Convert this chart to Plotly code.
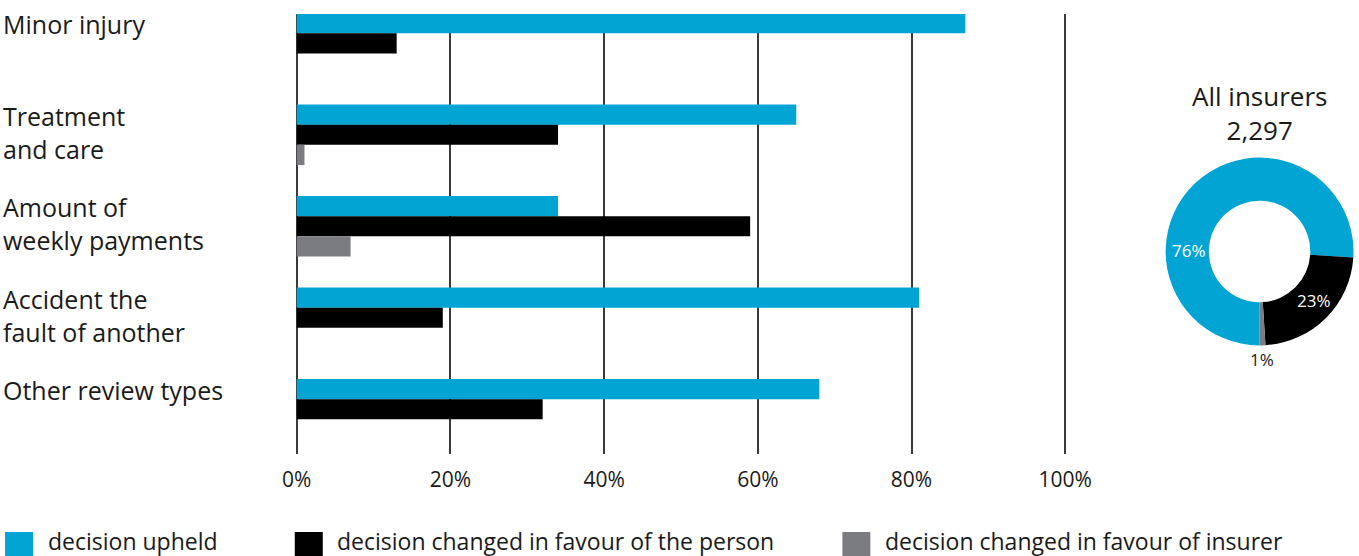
import plotly.graph_objects as go

categories = ["Minor injury", "Treatment and care", "Amount of weekly payments",
              "Accident the fault of another", "Other review types"]
category_labels = ["Minor injury", "Treatment<br>and care", "Amount of<br>weekly payments",
                   "Accident the<br>fault of another", "Other review types"]
upheld = [87, 65, 34, 81, 68]
changed_person = [13, 34, 59, 19, 32]
changed_insurer = [0, 1, 7, 0, 0]

series_names = ["decision upheld", "decision changed in favour of the person",
                "decision changed in favour of insurer"]
colors = ["#02A4D3", "#000000", "#7B7C81"]

donut_values = [76, 23, 1]
donut_title = "All insurers"
donut_total = "2,297"

x_ticks = [0, 20, 40, 60, 80, 100]

FONT = "Open Sans"
TXT = "#1a1a1a"

W, H = 1359, 556
FIG_W = 1369  # the capture squeezes the page by ~10px horizontally; compensate

fig = go.Figure()
for vals, name, col in zip([upheld, changed_person, changed_insurer], series_names, colors):
    fig.add_trace(go.Bar(y=categories, x=vals, orientation="h", name=name,
                         marker=dict(color=col, line=dict(width=0)),
                         showlegend=False, hoverinfo="x+name"))

fig.add_trace(go.Pie(values=donut_values, labels=series_names, hole=0.54, sort=False,
                     direction="clockwise", rotation=180,
                     marker=dict(colors=colors, line=dict(width=0)),
                     textinfo="none", showlegend=False,
                     domain=dict(x=[(1260.5 - 94) / W, (1260.5 + 94) / W],
                                 y=[1 - 345.5 / H, 1 - 157.5 / H])))

px_per = (1066 - 297) / 100
fig.update_layout(
    width=FIG_W, height=H, autosize=False,
    margin=dict(l=0, r=0, t=0, b=0, pad=0),
    paper_bgcolor="white", plot_bgcolor="white",
    barmode="group", bargap=0.3377, bargroupgap=0,
    font=dict(family=FONT, color=TXT),
    xaxis=dict(range=[-2, 102], domain=[(297 - 2 * px_per) / W, (1066 + 2 * px_per) / W],
               tickvals=x_ticks, ticktext=[f"{v}%" for v in x_ticks],
               showgrid=True, gridcolor="#3a3a3a", gridwidth=1.5, zeroline=False,
               showline=False, ticks="", tickfont=dict(size=21, color=TXT, family=FONT),
               ticklabelstandoff=11, fixedrange=True),
    yaxis=dict(type="category", categoryorder="array", categoryarray=categories,
               range=[4.489, -0.320], domain=[1 - 454 / H, 1 - 14 / H],
               showticklabels=False, showgrid=False, zeroline=False, showline=False,
               ticks="", fixedrange=True),
)

annotations = []
for cat, lab in zip(categories, category_labels):
    annotations.append(dict(x=1 / W, xref="paper", xanchor="left", y=cat, yref="y",
                            yanchor="top", yshift=38, text=lab, showarrow=False, align="left",
                            font=dict(size=25, color=TXT, family=FONT)))

annotations.append(dict(x=1260 / W, y=1 - 113 / H, xref="paper", yref="paper",
                        text=f"{donut_title}<br>{donut_total}",
                        showarrow=False, xanchor="center", yanchor="middle", align="center",
                        font=dict(size=26, color=TXT, family=FONT)))

donut_label_pos = [(1190, 250, "white"), (1315, 300, "white"), (1262.5, 359, TXT)]
for v, (lx, ly, c) in zip(donut_values, donut_label_pos):
    annotations.append(dict(x=lx / W, y=1 - ly / H, xref="paper", yref="paper", text=f"{v}%",
                            showarrow=False, xanchor="center", yanchor="middle",
                            font=dict(size=17, color=c, family=FONT)))

# legend: square swatches + labels
shapes = []
legend_x = [(5, 47), (295, 336), (843, 885)]
for (sx, tx), name, col in zip(legend_x, series_names, colors):
    shapes.append(dict(type="rect", xref="paper", yref="paper",
                       x0=sx / W, x1=(sx + 28) / W, y0=1 - 560 / H, y1=1 - 532 / H,
                       fillcolor=col, line=dict(width=0), layer="above"))
    annotations.append(dict(x=tx / W, y=1 - 540.5 / H, xref="paper", yref="paper", text=name,
                            showarrow=False, xanchor="left", yanchor="middle", borderpad=0,
                            font=dict(size=23, color=TXT, family=FONT)))

fig.update_layout(annotations=annotations, shapes=shapes)
fig.write_html(
    "out.html",
    config={"displayModeBar": False, "responsive": False},
    post_script="document.body.style.margin='0';document.body.style.overflow='hidden';"
                "document.documentElement.style.overflow='hidden';",
)
